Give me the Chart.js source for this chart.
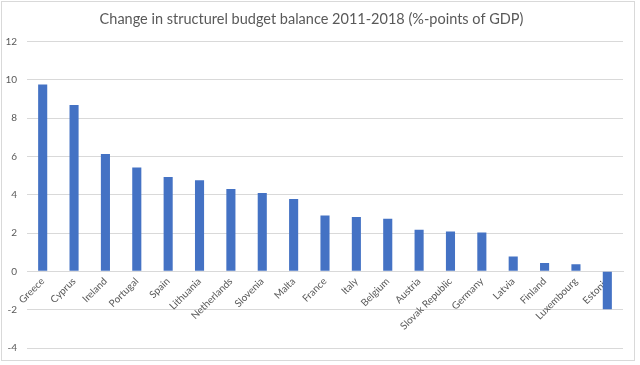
<!DOCTYPE html>
<html>
<head>
<meta charset="utf-8">
<script src="https://cdn.jsdelivr.net/npm/chart.js@4/dist/chart.umd.min.js"></script>
<style>
  html, body { margin: 0; padding: 0; background: #fff; }
  #wrap { position: relative; width: 640px; height: 365px; }
  #frame { position: absolute; left: 1px; top: 1px; width: 632px; height: 358px; border: 1px solid #d9d9d9; pointer-events: none; }
</style>
</head>
<body>
<div id="wrap">
  <canvas id="budgetChart" width="640" height="365"></canvas>
  <div id="frame"></div>
</div>
<script>
const countries = [
  "Greece", "Cyprus", "Ireland", "Portugal", "Spain", "Lithuania", "Netherlands",
  "Slovenia", "Malta", "France", "Italy", "Belgium", "Austria", "Slovak Republic",
  "Germany", "Latvia", "Finland", "Luxembourg", "Estonia"
];
const balanceChange = [
  9.75, 8.68, 6.12, 5.42, 4.92, 4.75, 4.30,
  4.09, 3.77, 2.92, 2.83, 2.74, 2.17, 2.08,
  2.03, 0.77, 0.43, 0.37, -1.98
];
const yMin = -4;
const yMax = 12;
const yStep = 2;

const textColor = "#595959";
const gridColor = "#d9d9d9";

const ctx = document.getElementById("budgetChart").getContext("2d");
new Chart(ctx, {
  type: "bar",
  data: {
    labels: countries,
    datasets: [{
      label: "Change in structurel budget balance",
      data: balanceChange,
      backgroundColor: "#4472c4",
      borderWidth: 0,
      categoryPercentage: 1,
      barPercentage: 0.29
    }]
  },
  options: {
    responsive: false,
    animation: false,
    layout: {
      padding: { left: 0, right: 17, top: 0, bottom: 17 }
    },
    plugins: {
      legend: { display: false },
      tooltip: { enabled: false },
      title: {
        display: true,
        text: "Change in structurel budget balance 2011-2018 (%-points of GDP)",
        color: textColor,
        font: { family: "Lato", size: 14.5, weight: "normal" },
        padding: { top: 11, bottom: 13 }
      }
    },
    scales: {
      x: {
        position: { y: 0 },
        grid: { display: false, drawTicks: false },
        border: { display: true, color: gridColor },
        ticks: {
          color: textColor,
          font: { family: "Lato", size: 10 },
          minRotation: 45,
          maxRotation: 45,
          autoSkip: false,
          padding: 4
        },
        afterFit: scale => { scale.height = 0; }
      },
      y: {
        min: yMin,
        max: yMax,
        grid: { color: gridColor, drawTicks: false },
        border: { display: false },
        ticks: {
          stepSize: yStep,
          color: textColor,
          font: { family: "Lato", size: 10 },
          padding: 10
        },
        afterFit: scale => { scale.width = 27; }
      }
    }
  }
});
</script>
</body>
</html>
